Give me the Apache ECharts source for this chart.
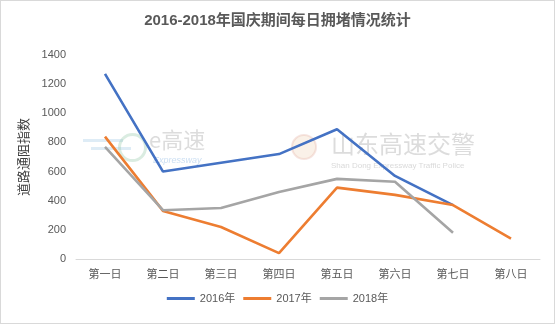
<!DOCTYPE html>
<html><head><meta charset="utf-8">
<script src="https://cdn.jsdelivr.net/npm/echarts@6/dist/echarts.min.js"></script>
<style>html,body{margin:0;padding:0;background:#fff}#c{width:555px;height:324px;box-sizing:border-box;border:1px solid #d9d9d9}</style>
</head><body><div id="c"></div>
<script>
const categories = ['第一日','第二日','第三日','第四日','第五日','第六日','第七日','第八日'];
const s2016 = [1270, 600, 660, 720, 890, 570, 370, null];
const s2017 = [840, 330, 220, 40, 490, 440, 370, 140];
const s2018 = [770, 335, 350, 460, 550, 530, 180, null];
const yTicks = {min: 0, max: 1400, interval: 200};

const chart = echarts.init(document.getElementById('c'), null, {renderer: 'canvas'});
const font = '"Liberation Sans",Arial,"Microsoft YaHei","Noto Sans CJK SC",sans-serif';
function line(name, data, color) {
  return {name, type: 'line', data, symbol: 'none', lineStyle: {width: 2.6, color}, itemStyle: {color}, connectNulls: false};
}
chart.setOption({
  animation: false,
  title: {text: '2016-2018年国庆期间每日拥堵情况统计', left: 'center', top: 7,
    textStyle: {fontSize: 15, fontWeight: 'bold', color: '#595959', fontFamily: font}},
  graphic: [
    {type: 'rect', left: 82, top: 138, shape: {width: 40, height: 3}, style: {fill: 'rgba(160,200,230,0.35)'}},
    {type: 'rect', left: 90, top: 146, shape: {width: 40, height: 3}, style: {fill: 'rgba(160,200,230,0.35)'}},
    {type: 'circle', left: 116, top: 131, shape: {r: 13}, style: {fill: 'none', stroke: 'rgba(150,200,170,0.35)', lineWidth: 3}},
    {type: 'text', left: 148, top: 128, style: {text: 'e高速', font: '22px "Noto Sans CJK SC",sans-serif', fill: 'rgba(185,185,185,0.5)'}},
    {type: 'text', left: 152, top: 155, style: {text: 'Expressway', font: 'italic 9px "Liberation Sans",Arial', fill: 'rgba(150,190,230,0.5)'}},
    {type: 'circle', left: 290, top: 133, shape: {r: 12}, style: {fill: 'rgba(240,210,180,0.3)', stroke: 'rgba(230,180,170,0.35)', lineWidth: 2}},
    {type: 'text', left: 330, top: 131, style: {text: '山东高速交警', font: '24px "Noto Sans CJK SC",sans-serif', fill: 'rgba(185,185,185,0.5)'}},
    {type: 'text', left: 330, top: 161, style: {text: 'Shan Dong Expressway Traffic Police', font: '8px "Liberation Sans",Arial', fill: 'rgba(185,185,185,0.55)'}}
  ],
  grid: {left: 75, right: 14, top: 54, bottom: 64},
  legend: {bottom: 14, itemWidth: 28, itemHeight: 3, itemGap: 8, icon: 'rect',
    textStyle: {fontSize: 11, color: '#595959', fontFamily: font},
    data: ['2016年','2017年','2018年']},
  xAxis: {type: 'category', data: categories, boundaryGap: true,
    axisLine: {lineStyle: {color: '#d9d9d9'}}, axisTick: {show: false},
    axisLabel: {fontSize: 11, color: '#595959', margin: 10, fontFamily: font}},
  yAxis: {type: 'value', min: yTicks.min, max: yTicks.max, interval: yTicks.interval,
    name: '道路通阻指数', nameLocation: 'middle', nameRotate: 90, nameGap: 44,
    nameTextStyle: {fontSize: 13, color: '#404040', fontFamily: font},
    axisLine: {show: false}, axisTick: {show: false}, splitLine: {show: false},
    axisLabel: {fontSize: 11, color: '#595959', margin: 10, fontFamily: font, formatter: v => String(v)}},
  series: [line('2016年', s2016, '#4472C4'), line('2017年', s2017, '#ED7D31'), line('2018年', s2018, '#A5A5A5')]
});
</script></body></html>
